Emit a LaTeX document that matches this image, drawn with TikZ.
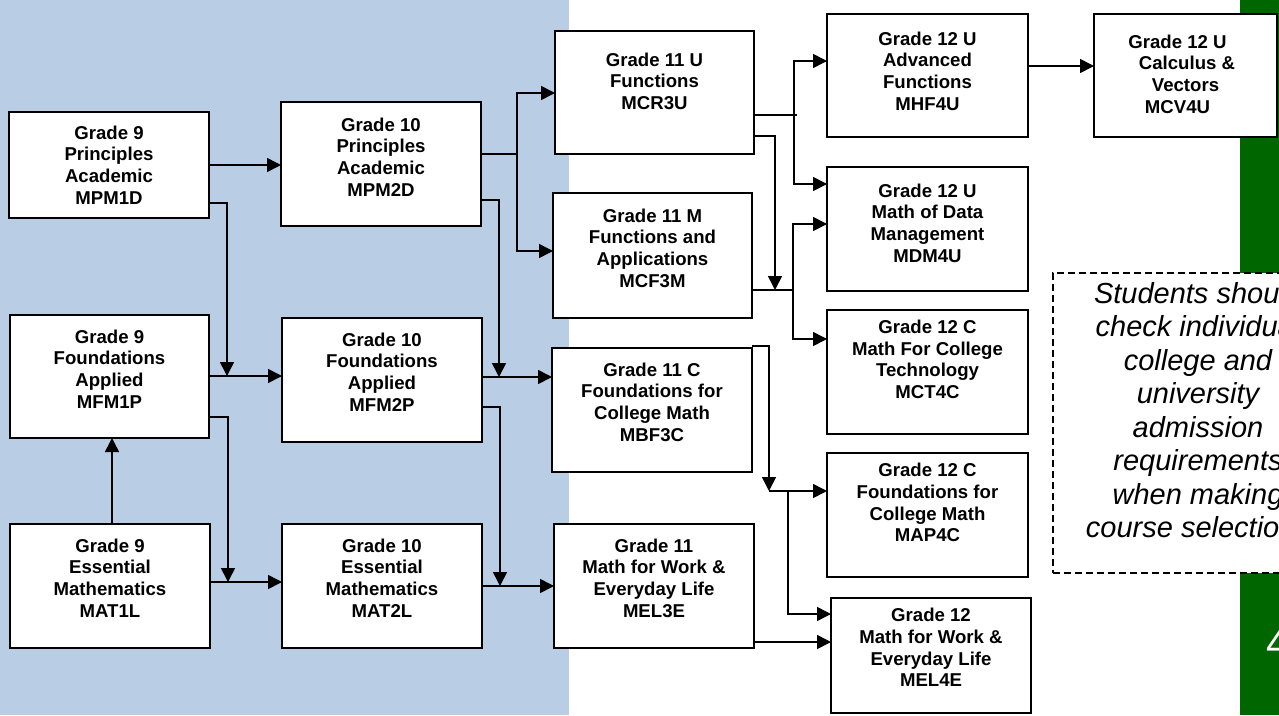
\documentclass[tikz,border=0pt]{standalone}
\usepackage{fontspec}
\setmainfont{Liberation Sans}
\usetikzlibrary{arrows.meta}
\definecolor{bgblue}{RGB}{185,205,229}
\definecolor{bargreen}{RGB}{0,102,0}
\begin{document}
\begin{tikzpicture}[x=1pt,y=-1pt,
  crs/.style n args={3}{draw=black, fill=white, line width=2pt, inner sep=0pt, outer sep=0pt,
    anchor=north west, minimum width=#1, text height=#2, text depth=#3, align=center,
    font=\fontsize{18.6}{21.7}\selectfont\bfseries},
  conn/.style={line width=1.6pt, -{Triangle[length=14pt,width=14pt]}},
  ln/.style={line width=1.6pt}]
\useasboundingbox (0,0) rectangle (1279,715);
\clip (0,0) rectangle (1279,715);
\fill[white] (0,0) rectangle (1279,715);
\fill[bgblue] (0,0) rectangle (569,715);
\fill[bargreen] (1240,0) rectangle (1300,715);

% Grade 9
\node[crs={200}{92.1}{13.9}] (P9) at (9,112) {Grade 9\\Principles\\Academic\\MPM1D};
\node[crs={199}{93.1}{29.9}] (F9) at (10,315) {Grade 9\\Foundations\\Applied\\MFM1P};
\node[crs={200}{93.1}{30.9}] (E9) at (10,524) {Grade 9\\Essential\\Mathematics\\MAT1L};
% Grade 10
\node[crs={200}{94.1}{29.9}] (P10) at (281,102) {Grade 10\\Principles\\Academic\\MPM2D};
\node[crs={200}{93.1}{30.9}] (F10) at (282,318) {Grade 10\\Foundations\\Applied\\MFM2P};
\node[crs={200}{93.1}{30.9}] (E10) at (282,524) {Grade 10\\Essential\\Mathematics\\MAT2L};
% Grade 11
\node[crs={199}{78.4}{44.6}] (U11) at (555,31) {Grade 11 U\\Functions\\MCR3U};
\node[crs={199}{94.1}{30.9}] (M11) at (553,193) {Grade 11 M\\Functions and\\Applications\\MCF3M};
\node[crs={200}{93.1}{30.9}] (C11) at (552,348) {Grade 11 C\\Foundations for\\College Math\\MBF3C};
\node[crs={200}{93.1}{30.9}] (W11) at (554,524) {Grade 11\\Math for Work \&\\Everyday Life\\MEL3E};
% Grade 12
\node[crs={201}{96.1}{26.9}] (AF12) at (827,14) {Grade 12 U\\Advanced\\Functions\\MHF4U};
\node[crs={201}{95.1}{28.9}] (DM12) at (827,167) {Grade 12 U\\Math of Data\\Management\\MDM4U};
\node[crs={201}{88.6}{35.4}] (CT12) at (827,310) {Grade 12 C\\Math For College\\Technology\\MCT4C};
\node[crs={201}{88.8}{35.2}] (AP12) at (827,453) {Grade 12 C\\Foundations for\\College Math\\MAP4C};
\node[crs={200}{88.8}{26.2}] (WL12) at (831,598) {Grade 12\\Math for Work \&\\Everyday Life\\MEL4E};
\node[crs={183}{99.1}{23.9}] (CV12) at (1094,14) {Grade 12 U\hspace*{16pt}\\\hspace*{3pt}Calculus \&\\Vectors\hspace*{16pt}\\MCV4U\hspace*{16pt}};

% note
\node[draw=black, fill=white, line width=1.3pt, dash pattern=on 7pt off 4pt, inner sep=0pt, outer sep=0pt,
  anchor=north west, minimum width=290, text height=264.8, text depth=35.2, align=center,
  font=\fontsize{29}{33.5}\selectfont\itshape] (note) at (1053,273)
  {Students should\\check individual\\college and\\university\\admission\\requirements\\when making\\course selections};
\node[text=white, anchor=base west, inner sep=0pt, font=\fontsize{41}{41}\selectfont] (pg) at (1266,657) {4};

% junction coordinates
\coordinate (jA) at (227,376);
\coordinate (jB) at (228,582);
\coordinate (jC) at (517,154);
\coordinate (jD) at (499,377);
\coordinate (jE) at (500,586);
\coordinate (jF) at (794,115);
\coordinate (jG) at (775,290);
\coordinate (jH) at (793,290);
\coordinate (jI) at (769,491);
\coordinate (jJ) at (788,491);

% connectors grade 9
\draw[conn] (P9.east) -- (P9.east -| P10.west);
\draw[conn] (P9.east |- 0,203) -| (jA);
\draw[conn] (F9.east |- jA) -- (F10.west |- jA);
\draw[conn] (F9.east |- 0,417) -| (jB);
\draw[conn] (E9.east |- jB) -- (E10.west |- jB);
\draw[conn] (E9.north -| 112,0) -- (F9.south -| 112,0);
% grade 10
\draw[ln] (P10.east |- jC) -- (jC);
\draw[conn] (jC) |- (U11.west |- 0,93);
\draw[conn] (jC) |- (M11.west |- 0,251);
\draw[conn] (P10.east |- 0,200) -| (jD);
\draw[conn] (F10.east |- jD) -- (C11.west |- jD);
\draw[conn] (F10.east |- 0,407) -| (jE);
\draw[conn] (E10.east |- jE) -- (W11.west |- jE);
% grade 11
\draw[ln] (U11.east |- jF) -- ([xshift=3pt]jF);
\draw[conn] (jF) |- (AF12.west |- 0,61);
\draw[conn] (jF) |- (DM12.west |- 0,184);
\draw[conn] (U11.east |- 0,136) -| (jG);
\draw[ln] (M11.east |- jH) -- (jH);
\draw[conn] (jH) |- (DM12.west |- 0,224);
\draw[conn] (jH) |- (CT12.west |- 0,339);
\draw[conn] (C11.north east |- 0,346) -| (jI);
\draw[conn] (jI) -- (AP12.west |- jI);
\draw[conn] (jJ) |- (WL12.west |- 0,614);
\draw[conn] (W11.east |- 0,642) -- (WL12.west |- 0,642);
% grade 12
\draw[conn] (AF12.east |- 0,66) -- (CV12.west |- 0,66);
\end{tikzpicture}
\end{document}
